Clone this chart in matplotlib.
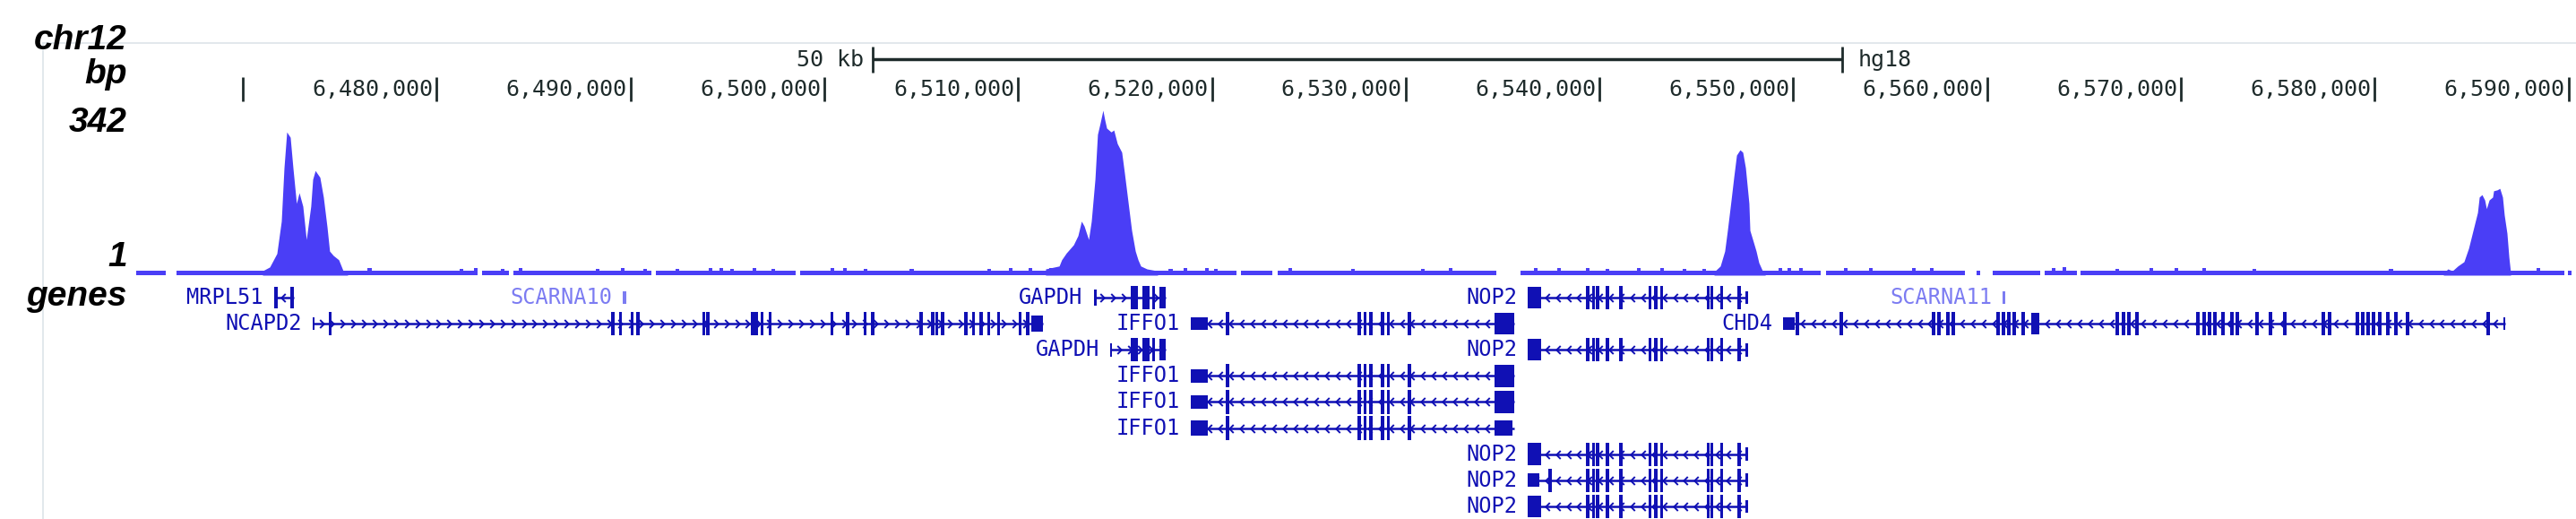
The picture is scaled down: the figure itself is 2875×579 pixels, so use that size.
# UCSC-style browser view: ChIP coverage over chr12 plus RefSeq genes

import numpy as np
import matplotlib.pyplot as plt
from matplotlib.lines import Line2D
from matplotlib.path import Path
from matplotlib.transforms import offset_copy

W, H = 2875, 579
COV = '#4a3ef6'
GENE = '#1010b4'
LIGHT = '#7c7cf2'
INK = '#1e2b2b'

# view window (kb)
view_start, view_end = 6464.41, 6590.15

# ruler
tick_pos = [6470, 6480, 6490, 6500, 6510, 6520, 6530, 6540, 6550, 6560, 6570, 6580, 6590]
tick_labels = ['', '6,480,000', '6,490,000', '6,500,000', '6,510,000', '6,520,000',
               '6,530,000', '6,540,000', '6,550,000', '6,560,000', '6,570,000',
               '6,580,000', '6,590,000']
scalebar = (6502.5, 6552.5)

# coverage track (max 342)
ymax = 342
base_level = 10
covered = [(6464.50, 6466.02), (6466.58, 6482.11), (6482.34, 6483.73), (6483.96, 6491.08),
           (6491.31, 6498.52), (6498.75, 6521.27), (6521.50, 6523.12), (6523.40, 6534.68),
           (6535.92, 6551.41), (6551.69, 6558.86), (6559.46, 6559.64), (6560.29, 6562.74),
           (6562.97, 6564.63), (6564.82, 6589.78), (6589.97, 6590.15)]
bump_pos = [6476.56, 6481.28, 6482.02, 6483.41, 6484.33, 6488.31, 6489.60, 6490.76, 6492.42,
            6494.13, 6494.69, 6495.24, 6496.40, 6497.37, 6500.42, 6501.07, 6502.13, 6504.53,
            6508.51, 6509.62, 6510.64, 6511.70, 6517.89, 6518.63, 6519.74, 6520.21, 6524.04,
            6527.28, 6530.89, 6532.32, 6536.71, 6537.91, 6539.39, 6540.41, 6542.03, 6543.23,
            6544.38, 6545.40, 6549.33, 6549.79, 6550.39, 6552.71, 6554.00, 6556.22, 6557.14,
            6563.43, 6563.99, 6566.71, 6568.47, 6569.76, 6571.20, 6573.79, 6580.82, 6588.44]
bump_val = [14, 13, 14, 13, 15, 13, 14, 13, 13, 15, 14, 13, 14, 13, 14, 15, 13, 13,
            13, 14, 15, 15, 13, 14, 14, 13, 15, 13, 13, 14, 15, 15, 14, 13, 14, 15,
            13, 13, 15, 14, 15, 14, 15, 14, 14, 15, 16, 13, 14, 14, 15, 13, 13, 14]

peak1_x = [6471.02, 6471.39, 6471.76, 6471.99, 6472.13, 6472.27, 6472.45, 6472.59, 6472.77,
           6472.91, 6473.10, 6473.28, 6473.51, 6473.61, 6473.74, 6473.98, 6474.16, 6474.35,
           6474.48, 6474.67, 6474.95, 6475.18, 6475.41]
peak1_y = [9, 17, 45, 112, 223, 297, 286, 223, 149, 171, 143, 74, 143, 199, 217, 203, 162,
           100, 50, 41, 32, 9, 7]
peak2_x = [6511.42, 6512.12, 6512.25, 6512.49, 6512.86, 6513.09, 6513.27, 6513.41, 6513.64,
           6513.78, 6513.97, 6514.10, 6514.24, 6514.38, 6514.47, 6514.57, 6514.80, 6514.94,
           6515.12, 6515.35, 6515.49, 6515.63, 6515.86, 6516.05, 6516.19, 6516.33, 6516.65,
           6517.20]
peak2_y = [13, 19, 32, 46, 63, 82, 112, 102, 74, 112, 199, 292, 316, 342, 323, 305, 297,
           301, 273, 255, 212, 167, 93, 50, 32, 19, 13, 9]
peak3_x = [6545.91, 6546.23, 6546.46, 6546.60, 6546.79, 6546.93, 6547.07, 6547.25, 6547.39,
           6547.53, 6547.71, 6547.76, 6547.94, 6548.08, 6548.22, 6548.41, 6548.55]
peak3_y = [7, 19, 50, 93, 156, 204, 249, 260, 255, 223, 149, 93, 69, 50, 26, 9, 6]
peak4_x = [6583.54, 6583.77, 6584.00, 6584.28, 6584.60, 6584.84, 6585.07, 6585.30, 6585.39,
           6585.53, 6585.67, 6585.76, 6585.90, 6586.08, 6586.13, 6586.32, 6586.45, 6586.59,
           6586.68, 6586.82, 6586.92, 6587.01]
peak4_y = [4, 13, 9, 19, 28, 56, 93, 130, 162, 167, 156, 138, 156, 162, 175, 177, 180, 162,
           125, 87, 37, 4]

# genes (kb); exons are narrow, blocks are (start, end, half height)
NCAPD2_exons = [6474.5, 6489.1, 6489.5, 6490.1, 6490.4, 6493.8, 6494.0, 6496.3, 6496.5,
                6496.8, 6497.2, 6500.4, 6501.2, 6502.1, 6502.5, 6505.0, 6505.6, 6505.8,
                6506.1, 6507.3, 6507.7, 6508.1, 6508.5, 6509.0, 6510.1, 6510.5]
GAPDH_exons = [6515.9, 6516.1, 6516.5, 6516.7, 6517.0]
IFFO1_exons = [6520.8, 6527.6, 6527.9, 6528.2, 6528.8, 6529.1, 6530.2]
NOP2_exons = [6539.4, 6539.7, 6539.9, 6540.4, 6541.1, 6542.6, 6542.9, 6543.2, 6545.6,
              6545.8, 6546.3, 6547.2]
CHD4_exons = [6550.21, 6552.47, 6557.24, 6557.51, 6557.98, 6558.25, 6560.57, 6560.84,
              6561.12, 6561.40, 6561.86, 6566.71, 6567.04, 6567.31, 6567.73, 6570.87,
              6571.20, 6571.48, 6571.75, 6572.17, 6572.63, 6572.91, 6573.93, 6574.62,
              6575.36, 6577.35, 6577.67, 6579.10, 6579.38, 6579.66, 6579.94, 6580.26,
              6580.68, 6581.09, 6581.69, 6585.85]

transcripts = [
    # name, row, start, end, strand, exons, blocks, colour
    ('MRPL51', 0, 6471.62, 6472.64, '-', [], [(6471.62, 6471.82, .42), (6472.44, 6472.64, .42)], GENE),
    ('SCARNA10', 0, 6489.60, 6489.78, None, [], [(6489.60, 6489.78, .25)], LIGHT),
    ('GAPDH', 0, 6513.9, 6517.6, '+', GAPDH_exons, [(6513.9, 6514.05, .3), (6517.3, 6517.6, .42)], GENE),
    ('NOP2', 0, 6536.3, 6547.6, '-', NOP2_exons, [(6536.3, 6537.0, .42), (6547.55, 6547.67, .25)], GENE),
    ('SCARNA11', 0, 6560.80, 6560.92, None, [], [(6560.80, 6560.92, .25)], LIGHT),
    ('NCAPD2', 1, 6473.6, 6511.3, '+', NCAPD2_exons, [(6473.6, 6473.7, .25), (6510.7, 6511.3, .3)], GENE),
    ('IFFO1', 1, 6518.9, 6535.6, '-', IFFO1_exons, [(6518.9, 6519.8, .25), (6534.6, 6535.6, .42)], GENE),
    ('CHD4', 1, 6549.47, 6586.73, '-', CHD4_exons, [(6549.47, 6550.07, .25), (6562.27, 6562.69, .42), (6586.63, 6586.75, .25)], GENE),
    ('GAPDH', 2, 6514.75, 6517.6, '+', GAPDH_exons, [(6514.75, 6514.85, .25), (6517.3, 6517.6, .42)], GENE),
    ('NOP2', 2, 6536.3, 6547.6, '-', NOP2_exons, [(6536.3, 6537.0, .42), (6547.55, 6547.67, .25)], GENE),
    ('IFFO1', 3, 6518.9, 6535.6, '-', IFFO1_exons, [(6518.9, 6519.8, .25), (6534.6, 6535.6, .42)], GENE),
    ('IFFO1', 4, 6518.9, 6535.6, '-', IFFO1_exons, [(6518.9, 6519.8, .25), (6534.6, 6535.6, .42)], GENE),
    ('IFFO1', 5, 6518.9, 6535.6, '-', IFFO1_exons, [(6518.9, 6519.8, .28), (6534.6, 6535.5, .28)], GENE),
    ('NOP2', 6, 6536.3, 6547.6, '-', NOP2_exons, [(6536.3, 6537.0, .42), (6547.55, 6547.67, .25)], GENE),
    ('NOP2', 7, 6536.3, 6547.6, '-', [6537.45] + NOP2_exons, [(6536.3, 6536.9, .25), (6547.55, 6547.67, .25)], GENE),
    ('NOP2', 8, 6536.3, 6547.6, '-', NOP2_exons, [(6536.3, 6537.0, .42), (6547.55, 6547.67, .25)], GENE),
]

left_labels = [('chr12', 55), ('bp', 93), ('342', 147), ('1', 297), ('genes', 341)]

# ---------------------------------------------------------------------------
fig = plt.figure(figsize=(W / 100, H / 100), dpi=100)
fig.patch.set_facecolor('white')


def band(top_px, bottom_px):
    ax = fig.add_axes([150 / W, 1 - bottom_px / H, 2720 / W, (bottom_px - top_px) / H])
    ax.set_xlim(view_start, view_end)
    ax.axis('off')
    return ax


ax_top = band(0, 120)
ax_top.set_ylim(120, 0)
ax_cov = band(123, 307)
ax_cov.set_ylim(0, ymax)
ax_gen = band(317.5, 579)
ax_gen.set_ylim(8.486, -0.5)

# frame lines
fig.add_artist(Line2D([48 / W, 1], [1 - 48 / H] * 2, transform=fig.transFigure, color='#dfe6ea', lw=1.3))
fig.add_artist(Line2D([48 / W] * 2, [1 - 48 / H, 0], transform=fig.transFigure, color='#dfe6ea', lw=1.3))

# left labels
for txt, yb in left_labels:
    fig.text(142 / W, 1 - yb / H, txt, ha='right', va='baseline', fontsize=28,
             fontweight='bold', fontstyle='italic', family='Liberation Sans', color='black')

# scale bar
mono = dict(family='DejaVu Sans Mono', fontsize=18, color=INK)
ax_top.hlines(66, scalebar[0], scalebar[1], color=INK, lw=2.5)
ax_top.vlines(scalebar, 52, 81, color=INK, lw=2)
ax_top.text(scalebar[0], 67, '50 kb', ha='right', va='center',
            transform=offset_copy(ax_top.transData, fig=fig, x=-10, units='dots'), **mono)
ax_top.text(scalebar[1], 67, 'hg18', ha='left', va='center',
            transform=offset_copy(ax_top.transData, fig=fig, x=18, units='dots'), **mono)

# ruler ticks
lab_tr = offset_copy(ax_top.transData, fig=fig, x=-4, units='dots')
for pos, lab in zip(tick_pos, tick_labels):
    ax_top.vlines(pos, 86, 113, color=INK, lw=2)
    if lab:
        ax_top.text(pos, 100, lab, ha='right', va='center', transform=lab_tr, **mono)

# coverage
for s, e in covered:
    ax_cov.fill_between([s, e], 0, base_level, color=COV, lw=0)
ax_cov.bar(bump_pos, bump_val, width=0.22, color=COV, lw=0)
for px, py in [(peak1_x, peak1_y), (peak2_x, peak2_y), (peak3_x, peak3_y), (peak4_x, peak4_y)]:
    ax_cov.fill_between(px, 0, py, color=COV, lw=0)

# genes
chev_left = Path([(0.5, 1), (-0.5, 0), (0.5, -1)], [Path.MOVETO, Path.LINETO, Path.LINETO])
chev_right = Path([(-0.5, 1), (0.5, 0), (-0.5, -1)], [Path.MOVETO, Path.LINETO, Path.LINETO])
name_tr = offset_copy(ax_gen.transData, fig=fig, x=-12, units='dots')

for name, row, start, end, strand, exons, blocks, col in transcripts:
    if strand is not None:
        ax_gen.hlines(row, start, end, color=col, lw=1.8)
        marks = np.arange(start + 0.45, end - 0.2, 0.55)
        ax_gen.plot(marks, [row] * len(marks), ls='none', color=col, mfc='none', mew=1.4,
                    marker=chev_left if strand == '-' else chev_right, ms=6.5)
    for x in exons:
        ax_gen.add_patch(plt.Rectangle((x - 0.08, row - 0.45), 0.16, 0.9, color=col, lw=0))
    for b0, b1, hh in blocks:
        ax_gen.add_patch(plt.Rectangle((b0, row - hh), b1 - b0, 2 * hh, color=col, lw=0))
    ax_gen.text(start, row, name, ha='right', va='center', transform=name_tr,
                family='DejaVu Sans Mono', fontsize=17, color=col)

fig.savefig('out.png', dpi=100, facecolor='white')
